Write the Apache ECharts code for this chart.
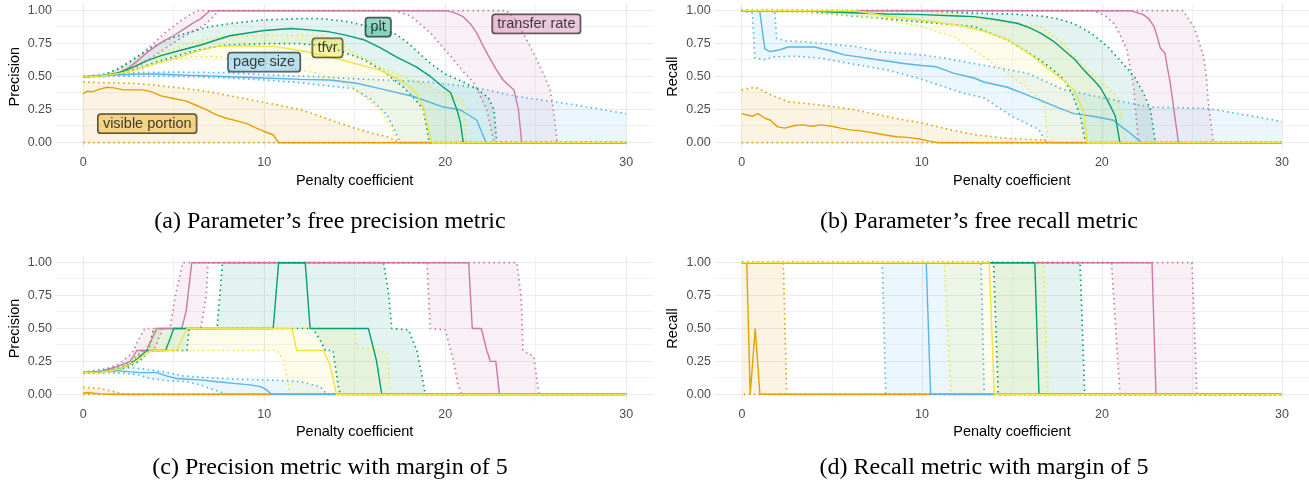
<!DOCTYPE html>
<html><head><meta charset="utf-8">
<script src="https://cdn.jsdelivr.net/npm/echarts@6/dist/echarts.min.js"></script>
<style>html,body{margin:0;padding:0;background:#fff}#c{width:1309px;height:487px}</style>
</head><body><div id="c"></div>
<script>
// ---------- categories / ticks ----------
const seriesNames = ['visible portion','page size','tfvr','plt','transfer rate'];
const seriesColors = ['#E69F00','#56B4E9','#F0E442','#009E73','#CC79A7'];
const xTicks = [0,10,20,30];
const xMinor = [5,15,25];
const yTicks = [0,0.25,0.5,0.75,1];
const yMinor = [0.125,0.375,0.625,0.875];
const labelX = [3.54, 10.0, 13.5, 16.3, 25.04];
const labelY = [0.144, 0.61, 0.719, 0.876, 0.90];

// ---------- (a) precision, parameter free ----------
const A_vis_mean = [[0,0.37],[0.2,0.39],[0.5,0.385],[0.8,0.40],[1.3,0.42],[1.7,0.415],[2.2,0.40],[3.3,0.40],[3.8,0.385],[4.3,0.355],[5,0.335],[5.7,0.315],[6.3,0.28],[6.8,0.25],[7.3,0.215],[7.9,0.185],[8.5,0.165],[9.05,0.145],[9.5,0.115],[10,0.085],[10.5,0.06],[10.8,0],[30,0]];
const A_vis_lo = [[0,0],[30,0]];
const A_vis_hi = [[0,0.46],[1,0.455],[2.8,0.45],[4,0.435],[5.7,0.41],[7,0.385],[8.3,0.35],[10,0.305],[12,0.25],[13.1,0.2],[14,0.155],[15,0.11],[16,0.07],[16.8,0.045],[17.5,0],[30,0]];
const A_pg_mean = [[0,0.5],[1,0.51],[2,0.515],[3,0.52],[4,0.52],[5,0.515],[6,0.51],[7,0.505],[8.1,0.5],[10,0.49],[12,0.48],[13.6,0.475],[15.1,0.45],[16.4,0.41],[18.25,0.35],[19.9,0.27],[20.8,0.25],[21.3,0.21],[21.75,0.17],[22.2,0.02],[22.3,0],[30,0]];
const A_pg_lo = [[0,0.5],[2,0.505],[4,0.505],[6,0.5],[8,0.49],[10,0.475],[12,0.455],[13.1,0.437],[14.9,0.41],[15.9,0.33],[16.8,0.21],[17.3,0.07],[17.5,0],[30,0]];
const A_pg_hi = [[0,0.5],[1,0.52],[2,0.53],[5,0.535],[8,0.53],[10,0.515],[13,0.5],[15,0.485],[19,0.46],[21,0.43],[22.3,0.4],[24,0.35],[27,0.29],[30,0.22]];
const A_tf_mean = [[0,0.5],[1,0.505],[2,0.525],[2.8,0.55],[4,0.6],[5.4,0.65],[6.5,0.7],[7.4,0.73],[8.5,0.735],[10.5,0.73],[11.5,0.71],[12.7,0.68],[14.6,0.615],[16.4,0.55],[17.5,0.475],[18,0.43],[18.4,0.375],[18.8,0.27],[19,0.15],[19.26,0],[30,0]];
const A_tf_lo = [[0,0.5],[1,0.5],[2,0.515],[3,0.55],[4.6,0.62],[6,0.65],[7.4,0.65],[9,0.62],[10.5,0.59],[12,0.55],[13.1,0.52],[14.1,0.47],[14.9,0.42],[15.7,0.33],[16.4,0.25],[17,0.12],[17.3,0.02],[17.4,0],[30,0]];
const A_tf_hi = [[0,0.5],[1.5,0.52],[3,0.6],[4.5,0.69],[6,0.76],[7.5,0.8],[10,0.815],[13.3,0.81],[14.2,0.75],[15,0.68],[16.4,0.575],[18.6,0.45],[21,0.32],[21.2,0],[30,0]];
const A_plt_mean = [[0,0.5],[1,0.505],[2,0.53],[2.8,0.575],[3.5,0.62],[4.3,0.66],[5.4,0.7],[6.5,0.74],[7.4,0.78],[8.1,0.81],[10,0.85],[11.5,0.865],[12.5,0.855],[13.6,0.84],[14.5,0.815],[15.5,0.78],[16.4,0.72],[17.3,0.65],[18.4,0.575],[19.2,0.5],[19.9,0.42],[20.3,0.38],[20.65,0.25],[20.85,0.15],[21,0],[30,0]];
const A_plt_lo = [[0,0.5],[1,0.5],[2,0.515],[3,0.56],[4,0.61],[5,0.65],[6,0.69],[7,0.72],[8,0.74],[10,0.75],[12,0.75],[13.5,0.73],[15.5,0.63],[16.6,0.54],[17.7,0.42],[18.4,0.32],[18.8,0.25],[19.1,0.02],[19.2,0],[30,0]];
const A_plt_hi = [[0,0.5],[1,0.51],[2,0.56],[3,0.65],[3.9,0.73],[4.8,0.79],[5.7,0.83],[7,0.88],[8.3,0.905],[10,0.93],[12,0.94],[13.1,0.94],[14.5,0.92],[15.5,0.89],[16.5,0.86],[17.3,0.82],[18,0.75],[18.7,0.66],[19.2,0.6],[20,0.52],[21,0.46],[21.75,0.41],[22.4,0.34],[22.7,0.25],[22.85,0],[30,0]];
const A_tr_mean = [[0,0.5],[1,0.505],[1.5,0.51],[2,0.53],[2.5,0.565],[3,0.62],[3.5,0.68],[4,0.73],[4.5,0.775],[5,0.81],[5.5,0.855],[6,0.9],[6.5,0.94],[7,1],[20.1,1],[20.6,0.98],[21,0.955],[21.4,0.9],[21.75,0.83],[22,0.76],[22.3,0.68],[22.8,0.56],[23.2,0.475],[23.8,0.4],[24.05,0.25],[24.23,0],[30,0]];
const A_tr_lo = [[0,0.5],[1,0.505],[2,0.52],[2.7,0.55],[3.5,0.62],[4.5,0.71],[5.5,0.8],[6.3,0.86],[6.8,0.9],[7.5,1],[17.2,1],[18.1,0.96],[19.2,0.83],[20.45,0.63],[21,0.54],[21.6,0.45],[22.3,0.25],[22.7,0],[30,0]];
const A_tr_hi = [[0,0.5],[1,0.51],[1.5,0.53],[2,0.57],[2.5,0.61],[3.15,0.67],[3.8,0.74],[4.5,0.83],[5.36,0.92],[5.9,0.97],[6.3,1],[23.4,1],[23.9,0.93],[24.3,0.83],[24.7,0.73],[25.06,0.63],[25.5,0.5],[25.8,0.4],[25.98,0.25],[26.2,0],[30,0]];

// ---------- (b) recall, parameter free ----------
const B_vis_mean = [[0,0.22],[0.3,0.21],[0.6,0.2],[0.9,0.22],[1.3,0.185],[1.6,0.17],[2,0.12],[2.4,0.11],[2.95,0.13],[3.4,0.135],[3.9,0.125],[4.4,0.135],[5,0.125],[5.5,0.11],[6.1,0.095],[6.6,0.09],[7.3,0.075],[7.9,0.06],[8.6,0.045],[9.2,0.04],[9.8,0.03],[10.5,0.01],[10.9,0],[30,0]];
const B_vis_lo = [[0,0],[30,0]];
const B_vis_hi = [[0,0.40],[0.74,0.42],[1.1,0.4],[1.66,0.36],[2.6,0.31],[4.4,0.285],[6.27,0.25],[7.65,0.21],[8.5,0.185],[10,0.15],[11.5,0.1],[13,0.06],[14.5,0.035],[16.6,0.02],[17.3,0],[30,0]];
const B_pg_mean = [[0,1],[1.0,1],[1.29,0.71],[1.57,0.69],[2.0,0.70],[2.6,0.725],[3.3,0.725],[4.05,0.725],[4.5,0.71],[4.98,0.695],[5.7,0.665],[6.5,0.65],[7.75,0.625],[9,0.6],[10,0.585],[10.8,0.575],[11.8,0.525],[12.9,0.49],[13.45,0.46],[14.75,0.42],[15.7,0.37],[16.6,0.32],[17.5,0.27],[18.45,0.22],[19.5,0.2],[20.65,0.17],[21.1,0.12],[21.6,0.07],[22.2,0],[30,0]];
const B_pg_lo = [[0,1],[0.6,0.98],[0.74,0.64],[1.29,0.63],[1.84,0.65],[3,0.655],[4.4,0.64],[6,0.6],[8.1,0.55],[10,0.48],[12.3,0.375],[13.45,0.34],[15,0.2],[16.5,0.1],[16.9,0],[30,0]];
const B_pg_hi = [[0,1],[1.84,1],[1.94,0.79],[2.5,0.77],[3.5,0.765],[5,0.745],[6.27,0.73],[7.65,0.69],[10,0.665],[11.5,0.635],[12.9,0.6],[15.9,0.525],[17.9,0.4],[20.8,0.32],[22.7,0.27],[25.8,0.26],[28,0.21],[30,0.16]];
const B_tf_mean = [[0,1],[6.3,1],[8,0.96],[10,0.93],[12,0.89],[12.9,0.865],[13.8,0.83],[14.75,0.78],[15.5,0.72],[16.2,0.65],[17.15,0.55],[17.8,0.48],[18.45,0.40],[18.8,0.3],[19.0,0.22],[19.2,0],[30,0]];
const B_tf_lo = [[0,1],[6.27,0.965],[8,0.93],[10,0.88],[11.8,0.8],[13.45,0.65],[14.75,0.525],[15.8,0.42],[16.8,0.3],[17,0],[30,0]];
const B_tf_hi = [[0,1],[10,1],[11.5,0.98],[12.9,0.94],[14.8,0.91],[16.6,0.88],[17.8,0.76],[19,0.575],[20,0.46],[20.85,0.35],[21.1,0.2],[21.2,0.07],[21.3,0],[30,0]];
const B_plt_mean = [[0,1],[4,1],[5,0.99],[8,0.975],[10,0.97],[12,0.96],[12.9,0.955],[14,0.935],[15.3,0.905],[16,0.87],[16.6,0.83],[17.3,0.77],[17.9,0.70],[18.5,0.63],[19.0,0.55],[19.5,0.48],[19.9,0.42],[20.2,0.35],[20.5,0.27],[20.75,0.2],[21.0,0],[30,0]];
const B_plt_lo = [[0,1],[3.5,1],[4.6,0.98],[7,0.95],[10,0.915],[12.9,0.88],[13.8,0.83],[14.75,0.78],[15.7,0.7],[16.6,0.625],[17.3,0.55],[17.9,0.475],[18.35,0.375],[18.8,0.2],[19.1,0],[30,0]];
const B_plt_hi = [[0,1],[10,1],[12.9,0.98],[15,0.975],[16.6,0.96],[17.5,0.94],[18.4,0.905],[19.4,0.83],[20.3,0.73],[21.1,0.61],[21.8,0.5],[22.3,0.38],[22.7,0.25],[22.97,0],[30,0]];
const B_tr_mean = [[0,1],[21.6,1],[22.3,0.97],[22.6,0.94],[22.9,0.88],[23.1,0.79],[23.25,0.715],[23.5,0.68],[23.65,0.56],[23.8,0.45],[24.0,0.25],[24.25,0],[30,0]];
const B_tr_lo = [[0,1],[19.55,1],[20.2,0.96],[20.65,0.905],[21.0,0.82],[21.4,0.70],[21.6,0.55],[21.77,0.42],[21.9,0.2],[22.04,0],[30,0]];
const B_tr_hi = [[0,1],[24.5,1],[25.1,0.88],[25.4,0.76],[25.65,0.65],[25.8,0.5],[25.9,0.32],[26.05,0.15],[26.2,0],[30,0]];

// ---------- (c) precision, margin 5 ----------
const C_vis_mean = [[0,0.01],[0.3,0.012],[0.6,0.008],[1,0.003],[1.5,0],[30,0]];
const C_vis_lo = [[0,0],[30,0]];
const C_vis_hi = [[0,0.053],[0.9,0.045],[1.7,0.02],[2.4,0],[30,0]];
const C_pg_mean = [[0,0.164],[0.9,0.172],[1.86,0.18],[2.5,0.172],[3.15,0.165],[4.07,0.165],[4.6,0.14],[5.17,0.12],[5.8,0.115],[6.46,0.11],[7.4,0.095],[8.3,0.083],[9.2,0.072],[9.8,0.058],[10.15,0.033],[10.4,0],[30,0]];
const C_pg_lo = [[0,0.16],[2,0.163],[3,0.15],[3.7,0.12],[4.6,0.105],[5.73,0.096],[6.5,0.07],[7.2,0.035],[7.94,0],[30,0]];
const C_pg_hi = [[0,0.167],[1,0.19],[1.9,0.205],[2.8,0.2],[3.5,0.19],[4.5,0.17],[5.5,0.14],[7,0.125],[8.5,0.115],[10.15,0.11],[12,0.096],[13.1,0.058],[13.47,0],[30,0]];
const C_tf_mean = [[0,0.167],[1,0.17],[2,0.19],[2.8,0.24],[3.4,0.3],[3.7,0.333],[5.17,0.333],[5.73,0.5],[11.53,0.5],[11.8,0.333],[13.28,0.333],[13.65,0.22],[14.0,0],[30,0]];
const C_tf_lo = [[0,0.167],[1.5,0.17],[2.5,0.22],[3.2,0.28],[3.8,0.333],[10.7,0.333],[11.07,0.26],[11.44,0],[30,0]];
const C_tf_hi = [[0,0.167],[1.5,0.18],[2.6,0.25],[3.2,0.333],[3.6,0.38],[4.0,0.5],[15.0,0.5],[15.1,0.36],[16.4,0.333],[16.8,0.31],[16.96,0.03],[17.0,0],[30,0]];
const C_plt_mean = [[0,0.167],[1,0.172],[2,0.19],[2.6,0.23],[3.0,0.27],[3.33,0.31],[3.5,0.333],[4.55,0.333],[4.8,0.42],[5.0,0.5],[10.5,0.5],[10.8,1],[12.27,1],[12.54,0.5],[15.76,0.5],[16.2,0.26],[16.5,0],[30,0]];
const C_plt_lo = [[0,0.167],[1.5,0.17],[2.5,0.21],[3.1,0.25],[3.7,0.333],[5.73,0.333],[5.85,0.5],[12.7,0.5],[13.1,0.41],[13.37,0.333],[13.8,0.333],[14.1,0.06],[14.2,0],[30,0]];
const C_plt_hi = [[0,0.167],[1.5,0.18],[2.5,0.24],[3.0,0.3],[3.3,0.333],[3.6,0.333],[3.9,0.5],[7.4,0.5],[7.7,1],[16.6,1],[16.87,0.77],[17.05,0.5],[17.97,0.49],[18.44,0.333],[18.8,0.08],[18.9,0],[30,0]];
const C_tr_mean = [[0,0.167],[1,0.175],[1.86,0.21],[2.6,0.25],[2.97,0.333],[3.5,0.333],[4.07,0.5],[5.45,0.5],[5.7,0.64],[6.0,1],[21.3,1],[21.5,0.5],[22.0,0.5],[22.3,0.333],[22.5,0.25],[22.8,0.25],[23.0,0],[30,0]];
const C_tr_lo = [[0,0.167],[1,0.17],[2,0.2],[2.8,0.25],[3.3,0.333],[3.9,0.333],[4.4,0.5],[6.5,0.5],[6.8,0.75],[6.9,1],[19.0,1],[19.17,0.5],[20.0,0.49],[20.45,0.26],[20.7,0.08],[20.9,0],[30,0]];
const C_tr_hi = [[0,0.167],[1,0.18],[2,0.23],[2.6,0.3],[2.8,0.333],[3.0,0.4],[3.4,0.5],[4.8,0.5],[5.08,0.74],[5.5,1],[23.96,1],[24.2,0.74],[24.3,0.333],[24.9,0.285],[25.15,0.03],[25.2,0],[30,0]];

// ---------- (d) recall, margin 5 ----------
const D_vis_mean = [[0.1,1],[0.27,1],[0.46,0],[0.74,0.5],[1.0,0],[30,0]];
const D_vis_lo = [[0.1,0],[30,0]];
const D_vis_hi = [[0.1,1],[2.3,1],[2.49,0],[30,0]];
const D_pg_mean = [[0,1],[10.24,1],[10.48,0],[30,0]];
const D_pg_lo = [[0,1],[7.8,1],[7.99,0],[30,0]];
const D_pg_hi = [[0,1],[13.28,1],[13.46,0],[30,0]];
const D_tf_mean = [[0,1],[13.74,1],[14.02,0],[30,0]];
const D_tf_lo = [[0,1],[11.25,1],[11.62,0],[30,0]];
const D_tf_hi = [[0,1],[16.75,1],[17.0,0],[30,0]];
const D_plt_mean = [[0,1],[16.27,1],[16.5,0],[30,0]];
const D_plt_lo = [[0,1],[13.98,1],[14.24,0],[30,0]];
const D_plt_hi = [[0,1],[18.78,1],[19.04,0],[30,0]];
const D_tr_mean = [[0,1],[22.78,1],[23.0,0],[30,0]];
const D_tr_lo = [[0,1],[20.53,1],[21.0,0],[30,0]];
const D_tr_hi = [[0,1],[25.0,1],[25.27,0],[30,0]];

// ---------- layout ----------
const FONT = '"Liberation Sans", Arial, sans-serif';
const SERIF = '"Liberation Serif", "Times New Roman", serif';
const panels = [
  {grid:{left:56, top:4.1, width:597.3, height:145.2}, yName:'Precision',
   sets:[[A_vis_mean,A_vis_lo,A_vis_hi],[A_pg_mean,A_pg_lo,A_pg_hi],[A_tf_mean,A_tf_lo,A_tf_hi],[A_plt_mean,A_plt_lo,A_plt_hi],[A_tr_mean,A_tr_lo,A_tr_hi]]},
  {grid:{left:714.6, top:4.1, width:597, height:145.2}, yName:'Recall',
   sets:[[B_vis_mean,B_vis_lo,B_vis_hi],[B_pg_mean,B_pg_lo,B_pg_hi],[B_tf_mean,B_tf_lo,B_tf_hi],[B_plt_mean,B_plt_lo,B_plt_hi],[B_tr_mean,B_tr_lo,B_tr_hi]]},
  {grid:{left:56, top:256.1, width:597.3, height:144.8}, yName:'Precision',
   sets:[[C_vis_mean,C_vis_lo,C_vis_hi],[C_pg_mean,C_pg_lo,C_pg_hi],[C_tf_mean,C_tf_lo,C_tf_hi],[C_plt_mean,C_plt_lo,C_plt_hi],[C_tr_mean,C_tr_lo,C_tr_hi]]},
  {grid:{left:714.9, top:256.1, width:597, height:144.8}, yName:'Recall',
   sets:[[D_vis_mean,D_vis_lo,D_vis_hi],[D_pg_mean,D_pg_lo,D_pg_hi],[D_tf_mean,D_tf_lo,D_tf_hi],[D_plt_mean,D_plt_lo,D_plt_hi],[D_tr_mean,D_tr_lo,D_tr_hi]]}
];
const captions = [
  {text:"(a) Parameter\u2019s free precision metric", x:330, y:222},
  {text:"(b) Parameter\u2019s free recall metric", x:979, y:222},
  {text:"(c) Precision metric with margin of 5", x:330, y:468},
  {text:"(d) Recall metric with margin of 5", x:984, y:468}
];
const drawOrder = [4,0,1,3,2];

function rgba(hex, a){
  const n = parseInt(hex.slice(1),16);
  return 'rgba(' + ((n>>16)&255) + ',' + ((n>>8)&255) + ',' + (n&255) + ',' + a + ')';
}

const grids=[], xAxes=[], yAxes=[], series=[];
panels.forEach((p,i)=>{
  grids.push(Object.assign({containLabel:false}, p.grid));
  xAxes.push({gridIndex:i, type:'value', min:-1.5, max:31.5,
    axisLine:{show:false}, axisTick:{show:false}, splitLine:{show:false},
    axisLabel:{customValues:xTicks, color:'#4D4D4D', fontSize:12.5, margin:7, fontFamily:FONT},
    name:'Penalty coefficient', nameLocation:'middle', nameGap:24,
    nameTextStyle:{color:'#000', fontSize:14.5, fontFamily:FONT}});
  yAxes.push({gridIndex:i, type:'value', min:-0.05, max:1.05,
    axisLine:{show:false}, axisTick:{show:false}, splitLine:{show:false},
    axisLabel:{customValues:yTicks, formatter:v=>Number(v).toFixed(2), color:'#4D4D4D', fontSize:12.5, margin:4, fontFamily:FONT},
    name:p.yName, nameLocation:'middle', nameGap:34,
    nameTextStyle:{color:'#000', fontSize:14.5, fontFamily:FONT}});
  const major = {color:'#EBEBEB', width:1.2, type:'solid'};
  const minor = {color:'#F1F1F1', width:0.9, type:'solid'};
  series.push({type:'line', xAxisIndex:i, yAxisIndex:i, data:[], silent:true, z:0, animation:false,
    markLine:{silent:true, z:0, symbol:['none','none'], label:{show:false}, animation:false,
      emphasis:{disabled:true},
      data:[].concat(
        xMinor.map(v=>({xAxis:v, lineStyle:minor})),
        yMinor.map(v=>({yAxis:v, lineStyle:minor})),
        xTicks.map(v=>({xAxis:v, lineStyle:major})),
        yTicks.map(v=>({yAxis:v, lineStyle:major})))}});
  // bands
  drawOrder.forEach(k=>{
    const [mean, lo, hi] = p.sets[k];
    const col = seriesColors[k];
    series.push({type:'custom', xAxisIndex:i, yAxisIndex:i, silent:true, z:1, animation:false,
      data:[[0,0]],
      renderItem:(params, api)=>{
        const pts = hi.map(d=>api.coord(d)).concat(lo.slice().reverse().map(d=>api.coord(d)));
        return {type:'polygon', shape:{points:pts}, style:{fill:rgba(col,0.11)}};
      }});
  });
  // lines
  drawOrder.forEach(k=>{
    const [mean, lo, hi] = p.sets[k];
    const col = seriesColors[k];
    [lo, hi].forEach(d=>{
      series.push({type:'line', xAxisIndex:i, yAxisIndex:i, data:d, showSymbol:false, symbol:'none',
        silent:true, z:2, animation:false,
        lineStyle:{color:col, width:1.7, type:[1.5,3.5]}});
    });
    series.push({type:'line', name:seriesNames[k], xAxisIndex:i, yAxisIndex:i, data:mean, showSymbol:false, symbol:'none',
      silent:true, z:3, animation:false, lineStyle:{color:col, width:1.4}});
  });
});

// series labels in panel (a)
series.push({type:'scatter', xAxisIndex:0, yAxisIndex:0, symbolSize:1, silent:true, z:10, animation:false,
  itemStyle:{color:'rgba(0,0,0,0)'},
  data: seriesNames.map((n,k)=>({name:n, value:[labelX[k], labelY[k]],
    label:{backgroundColor:rgba(seriesColors[k],0.5)}})),
  label:{show:true, position:'inside', formatter:'{b}', color:'#111', fontSize:14.5, fontFamily:FONT,
    borderColor:'#222', borderWidth:0.9, borderRadius:3, padding:[2,5,2,5]}});

const chart = echarts.init(document.getElementById('c'));
chart.setOption({
  animation:false,
  grid:grids, xAxis:xAxes, yAxis:yAxes, series:series,
  graphic: captions.map(c=>({type:'text', x:c.x, y:c.y, silent:true,
    style:{text:c.text, font:'24px ' + SERIF, fill:'#000', textAlign:'center', textVerticalAlign:'middle'}}))
});
</script>
</body></html>
